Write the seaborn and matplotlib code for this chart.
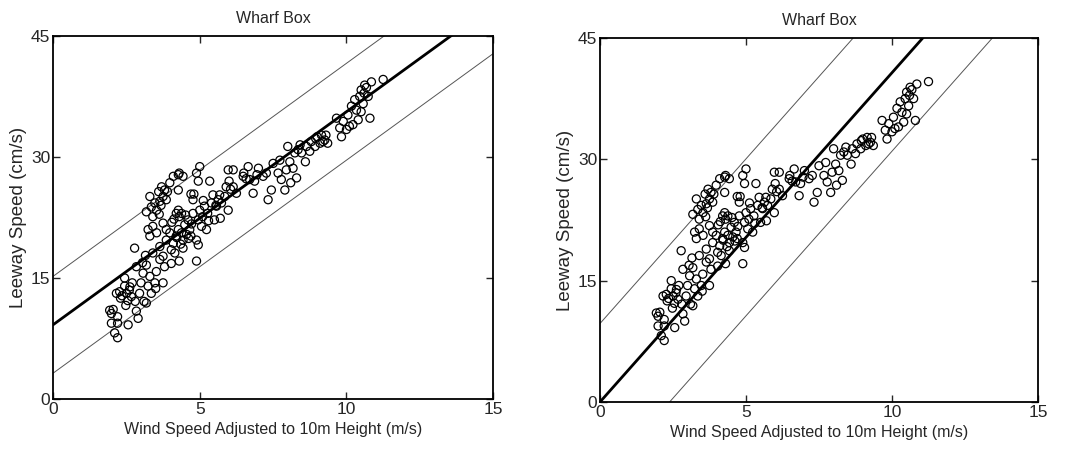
import numpy as np
import pandas as pd
import matplotlib
matplotlib.use("Agg")
import matplotlib.pyplot as plt
import seaborn as sns

# ---- data ----
wind = [1.93, 1.99, 2.05, 1.99, 2.10, 2.20, 2.20, 2.20, 2.16, 2.27, 2.30, 2.44, 2.44, 2.56, 2.50,
        2.60, 2.67, 2.70, 2.80, 2.84, 2.90, 2.78, 2.84, 2.95, 3.00, 3.07, 3.10, 3.18, 3.24, 3.30,
        3.35, 3.40, 3.47, 3.52, 3.64, 3.75, 3.80, 3.18, 3.50,
        3.18, 3.30, 3.35, 3.40, 3.47, 3.60, 3.64, 3.70, 3.75, 3.80, 3.86, 3.90, 3.98, 4.10, 4.27,
        4.30, 4.43, 4.27, 3.53, 3.24, 3.30, 3.40, 3.53, 3.75, 3.86,
        3.64, 3.75, 3.86, 3.98, 4.03, 4.10, 4.15, 4.20, 4.27, 4.20, 4.27, 4.30, 4.38, 4.38, 4.43,
        4.43, 4.30, 4.03, 4.49, 4.55, 4.60, 4.66, 4.70, 4.77, 4.80, 4.77, 4.70, 4.89, 4.95, 4.89,
        4.95, 5.00, 4.89, 5.00, 4.95, 5.06, 5.10, 5.23, 5.16, 5.27, 5.34, 5.40, 5.45, 5.50, 5.57,
        5.63, 5.68, 5.74, 5.85, 5.90, 5.97, 5.70, 5.97, 6.00, 6.14, 6.14, 6.25,
        6.48, 6.50, 6.65, 6.70, 6.82, 6.87, 7.00, 7.16, 7.27, 7.33, 7.44, 7.50, 7.67, 7.73, 7.78,
        7.90, 7.95, 8.00, 8.07, 8.10, 8.18, 8.24, 8.30, 8.35, 8.47, 8.60, 8.64, 8.75, 8.80, 8.93,
        9.00, 9.10, 9.15, 9.26, 9.30, 9.36,
        9.66, 9.77, 9.83, 9.89, 10.00, 10.05, 10.10, 10.17, 10.28, 10.34, 10.40, 10.45, 10.50,
        10.57, 10.60, 10.68, 10.74, 10.80, 10.85, 11.25, 10.50,
        2.35, 2.55, 2.62, 2.48, 3.05, 3.15, 3.62, 3.68, 4.05, 4.12, 4.22, 4.35, 4.52, 4.62, 4.72,
        5.12, 5.30, 5.55, 6.05, 6.58, 6.95, 8.42, 8.95, 9.20, 10.22, 10.62]
leeway = [11.0, 10.6, 11.1, 9.4, 8.2, 7.6, 9.4, 10.2, 13.1, 13.3, 12.5, 14.0, 15.0, 9.2, 13.1,
          13.5, 12.7, 14.4, 12.1, 10.9, 10.0, 18.7, 16.4, 13.1, 14.4, 15.6, 12.1, 16.6, 14.0, 15.2,
          13.1, 18.1, 14.4, 15.8, 17.3, 14.4, 16.4, 11.9, 13.7,
          23.2, 25.1, 23.8, 22.6, 24.3, 25.7, 24.5, 26.3, 25.1, 25.9, 24.7, 25.7, 26.8, 27.6, 27.8,
          28.0, 27.6, 25.9, 23.4, 21.0, 20.2, 21.4, 20.6, 21.8, 21.0,
          18.9, 17.7, 19.7, 20.6, 18.5, 19.3, 18.1, 20.2, 21.0, 23.0, 23.4, 22.6, 23.0, 20.6, 19.7,
          18.7, 17.1, 16.8, 21.6, 20.4, 22.2, 21.0, 25.4, 24.7, 25.4, 23.0, 20.2, 19.7, 19.1, 17.1,
          22.2, 23.4, 28.0, 28.8, 27.0, 21.4, 22.6, 21.0, 23.9, 23.0, 27.0, 24.3, 25.3, 22.2, 23.9,
          24.7, 25.3, 24.3, 25.1, 26.3, 23.4, 22.4, 28.4, 27.0, 28.4, 26.3, 25.5,
          27.6, 28.0, 28.8, 27.2, 25.5, 27.0, 28.6, 27.6, 28.0, 24.7, 25.9, 29.2, 28.0, 29.6, 27.2,
          25.9, 28.4, 31.3, 29.4, 26.8, 28.6, 30.5, 27.4, 30.9, 30.5, 29.4, 31.3, 30.7, 31.9, 31.3,
          32.5, 31.7, 32.7, 32.1, 32.7, 31.7,
          34.8, 33.6, 32.5, 34.4, 33.4, 35.2, 33.8, 36.3, 37.1, 35.8, 34.6, 37.5, 38.3,
          36.6, 37.9, 38.6, 37.5, 34.8, 39.3, 39.6, 35.6,
          12.8, 12.2, 13.9, 11.6, 16.9, 17.8, 22.9, 24.0, 21.9, 22.3, 20.0, 19.2, 22.8, 19.9, 21.7,
          24.6, 22.1, 24.0, 26.0, 27.3, 27.8, 31.5, 32.3, 31.9, 34.0, 38.9]

# fitted lines: (slope, intercept) for fit and upper/lower bounds
left_slope, left_icpt, left_band = 2.64, 9.2, 6.0
right_slope, right_icpt, right_band = 4.07, 0.0, 9.7

x_ticks = [0, 5, 10, 15]
y_ticks = [0, 15, 30, 45]
title = "Wharf Box"
xlabel = "Wind Speed Adjusted to 10m Height (m/s)"
ylabel = "Leeway Speed (cm/s)"

df = pd.DataFrame({"wind": wind, "leeway": leeway})

sns.set_style("ticks")
plt.rcParams["font.family"] = ["Liberation Sans", "DejaVu Sans"]

fig = plt.figure(figsize=(10.71, 4.54), dpi=100)
ax_l = fig.add_axes([0.0495, 0.121, 0.411, 0.800])
ax_r = fig.add_axes([0.5602, 0.1145, 0.409, 0.802])

for ax, slope, icpt, band in [(ax_l, left_slope, left_icpt, left_band),
                              (ax_r, right_slope, right_icpt, right_band)]:
    xs = np.array([x_ticks[0], x_ticks[-1]], dtype=float)
    sns.lineplot(x=xs, y=slope * xs + icpt, ax=ax, color="black", lw=2.0)
    sns.lineplot(x=xs, y=slope * xs + icpt + band, ax=ax, color="#555555", lw=0.7)
    sns.lineplot(x=xs, y=slope * xs + icpt - band, ax=ax, color="#555555", lw=0.7)
    sns.scatterplot(data=df, x="wind", y="leeway", ax=ax, marker="o", s=34,
                    facecolor="none", edgecolor="black", linewidth=0.9, zorder=3)
    ax.set_xlim(0, 15)
    ax.set_ylim(0, 45)
    ax.set_xticks(x_ticks)
    ax.set_yticks(y_ticks)
    ax.tick_params(direction="in", length=5, width=1, top=True, right=True,
                   labelsize=12.5, pad=2)
    for sp in ax.spines.values():
        sp.set_visible(True)
        sp.set_linewidth(1.3)
        sp.set_color("black")
    ax.set_title(title, fontsize=11.5, pad=9)
    ax.set_xlabel(xlabel, fontsize=11.5, labelpad=4)
    ax.set_ylabel(ylabel, fontsize=13.5, labelpad=3)

fig.savefig("out.png", dpi=100)
